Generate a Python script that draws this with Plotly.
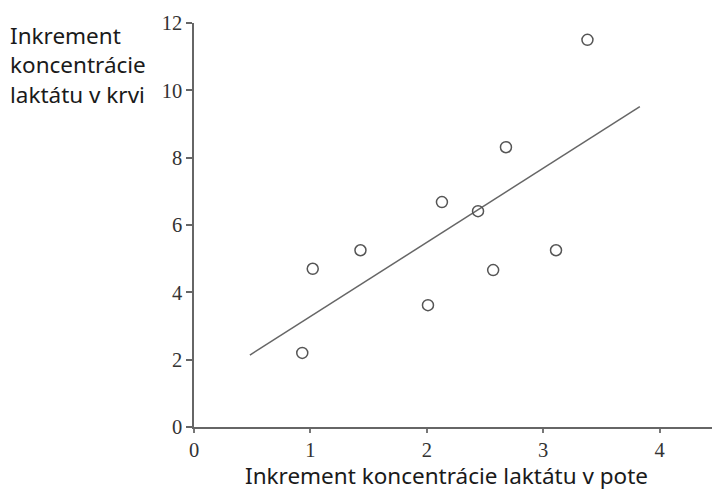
import numpy as np
import plotly.graph_objects as go

# Lactate concentration increments: sweat (x) vs blood (y)
sweat = [0.93, 1.02, 1.43, 2.01, 2.13, 2.44, 2.57, 2.68, 3.11, 3.38]
blood = [2.2, 4.7, 5.25, 3.62, 6.68, 6.41, 4.66, 8.31, 5.25, 11.5]

# Extent of the fitted regression line along x
fit_extent = [0.48, 3.83]

x_ticks = [0, 1, 2, 3, 4]
y_ticks = [0, 2, 4, 6, 8, 10, 12]

y_title_lines = ["Inkrement", "koncentrácie", "laktátu v krvi"]
x_title = "Inkrement koncentrácie laktátu v pote"

slope, intercept = np.polyfit(sweat, blood, 1)
fit_x = np.array(fit_extent)
fit_y = slope * fit_x + intercept

W, H = 712, 490
L, R, T, B = 194, 0, 23, 63
pw, ph = W - L - R, H - T - B

def px_to_paper_x(px):
    return (px - L) / pw

def px_to_paper_y(py):
    return (H - B - py) / ph

fig = go.Figure()
fig.add_trace(go.Scatter(
    x=fit_x, y=fit_y, mode="lines",
    line=dict(color="#666666", width=1.5),
    hoverinfo="skip", showlegend=False,
))
fig.add_trace(go.Scatter(
    x=sweat, y=blood, mode="markers",
    marker=dict(symbol="circle-open", size=11, color="#555555",
                line=dict(width=1.5, color="#555555")),
    showlegend=False,
))

tick_font = dict(family="Liberation Serif", size=20.5, color="#333333")
title_font = dict(family="Noto Sans", size=22.5, color="#1a1a1a")

fig.update_xaxes(
    range=[0, 4.45],
    tickvals=x_ticks, ticktext=[str(v) for v in x_ticks],
    ticks="outside", ticklen=4, tickwidth=1.5, tickcolor="#777777",
    showline=True, linecolor="#666666", linewidth=1.5,
    showgrid=False, zeroline=False, tickfont=tick_font,
)
fig.update_yaxes(
    range=[0, 12],
    tickvals=y_ticks, ticktext=[str(v) for v in y_ticks],
    ticks="outside", ticklen=6, tickwidth=1.5, tickcolor="#666666",
    showline=True, linecolor="#666666", linewidth=1.5,
    showgrid=False, zeroline=False, tickfont=tick_font,
)

annotations = [
    # Vertical-axis title, stacked on three lines at the top left
    dict(
        text="<br>".join(y_title_lines), xref="paper", yref="paper",
        x=px_to_paper_x(8), y=px_to_paper_y(65),
        xanchor="left", yanchor="middle", align="left", showarrow=False,
        font=title_font,
    ),
    # Horizontal-axis title
    dict(
        text=x_title, xref="paper", yref="paper",
        x=px_to_paper_x(446), y=px_to_paper_y(476),
        xanchor="center", yanchor="middle", showarrow=False,
        font=title_font, borderpad=0,
    ),
]

fig.update_layout(
    width=W, height=H,
    margin=dict(l=L, r=R, t=T, b=B),
    paper_bgcolor="white", plot_bgcolor="white",
    annotations=annotations,
)

fig.write_html("out.html")
